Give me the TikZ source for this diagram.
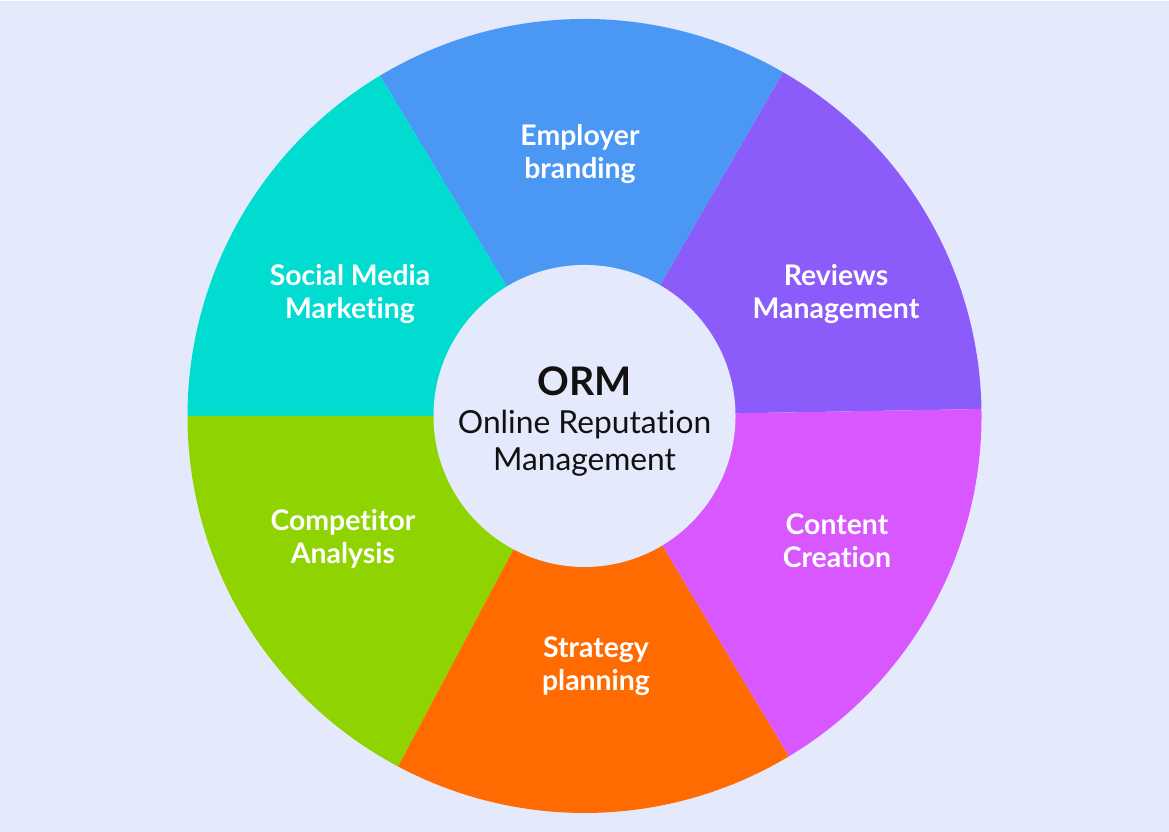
\documentclass[tikz,border=0pt]{standalone}
\usepackage{fontspec}
\setmainfont{Lato}[Ligatures=NoCommon]
\definecolor{ormBg}{HTML}{E4EAFC}
\definecolor{ormBlue}{HTML}{4A97F4}
\definecolor{ormPurple}{HTML}{8C5CFB}
\definecolor{ormMagenta}{HTML}{D957FE}
\definecolor{ormOrange}{HTML}{FF6B00}
\definecolor{ormGreen}{HTML}{8FD300}
\definecolor{ormCyan}{HTML}{00DCD0}
\definecolor{ormInk}{HTML}{111111}

\begin{document}
\begin{tikzpicture}[x=0.75pt, y=0.75pt,
	every node/.style={align=center, inner sep=0pt},
	lbl/.style={text=white, font=\fontsize{21.3}{24.75}\selectfont\bfseries}]
	\fill[ormBg] (0,0) rectangle (1169,831);
	\coordinate (o) at (584.5,416);
	% the six slices of the wheel
	\fill[ormPurple] (o) -- ++(1:397) arc[start angle=1, end angle=60, radius=397] -- cycle;
	\fill[ormBlue] (o) -- ++(60:397) arc[start angle=60, end angle=121, radius=397] -- cycle;
	\fill[ormCyan] (o) -- ++(121:397) arc[start angle=121, end angle=180, radius=397] -- cycle;
	\fill[ormGreen] (o) -- ++(180:397) arc[start angle=180, end angle=242, radius=397] -- cycle;
	\fill[ormOrange] (o) -- ++(242:397) arc[start angle=242, end angle=301, radius=397] -- cycle;
	\fill[ormMagenta] (o) -- ++(301:397) arc[start angle=301, end angle=361, radius=397] -- cycle;
	\fill[ormBg] (o) circle[radius=151];
	% hub
	\node[text=ormInk, font=\fontsize{29.5}{30}\selectfont\bfseries] (orm) at (584.5,450.5) {ORM};
	\node[text=ormInk, font=\fontsize{23.8}{27.75}\selectfont] (ormFull) at (584.5,389) {Online Reputation\\Management};
	% slice labels
	\node[lbl] (employer) at (580,678) {Employer\\branding};
	\node[lbl] (reviews) at (836,538) {Reviews\\Management};
	\node[lbl] (content) at (837,291) {Content\\Creation};
	\node[lbl] (strategy) at (596,166) {Strategy\\planning};
	\node[lbl] (competitor) at (343,293) {Competitor\\Analysis};
	\node[lbl] (social) at (350,538) {Social Media\\Marketing};
\end{tikzpicture}
\end{document}
